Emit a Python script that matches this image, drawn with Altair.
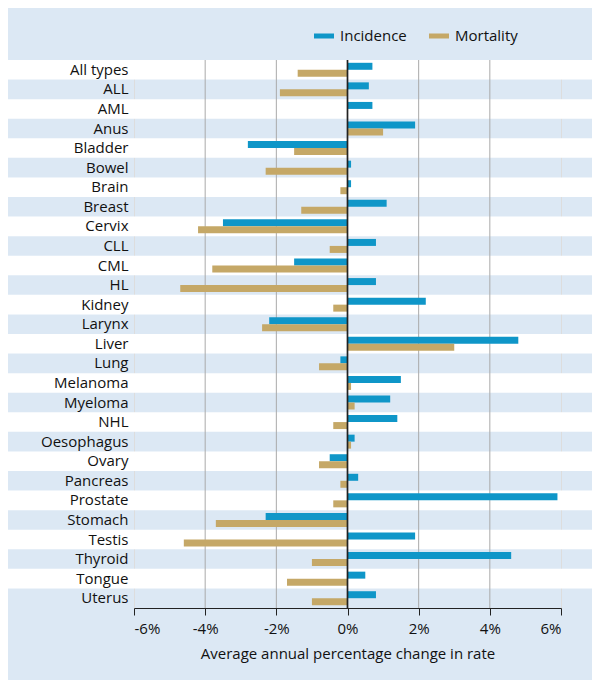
import altair as alt
import pandas as pd

cancers = ["All types", "ALL", "AML", "Anus", "Bladder", "Bowel", "Brain", "Breast",
           "Cervix", "CLL", "CML", "HL", "Kidney", "Larynx", "Liver", "Lung",
           "Melanoma", "Myeloma", "NHL", "Oesophagus", "Ovary", "Pancreas",
           "Prostate", "Stomach", "Testis", "Thyroid", "Tongue", "Uterus"]
incidence = [0.7, 0.6, 0.7, 1.9, -2.8, 0.1, 0.1, 1.1, -3.5, 0.8, -1.5, 0.8, 2.2, -2.2,
             4.8, -0.2, 1.5, 1.2, 1.4, 0.2, -0.5, 0.3, 5.9, -2.3, 1.9, 4.6, 0.5, 0.8]
mortality = [-1.4, -1.9, 0.0, 1.0, -1.5, -2.3, -0.2, -1.3, -4.2, -0.5, -3.8, -4.7, -0.4,
             -2.4, 3.0, -0.8, 0.1, 0.2, -0.4, 0.1, -0.8, -0.2, -0.4, -3.7, -4.6, -1.0,
             -1.7, -1.0]
grid_values = [-4, -2, 2, 4]

df = pd.DataFrame({
    "cancer": cancers * 2,
    "measure": ["Incidence"] * len(cancers) + ["Mortality"] * len(cancers),
    "change": incidence + mortality,
})
stripes = pd.DataFrame({"cancer": cancers[::2]})
grid = pd.DataFrame({"v": grid_values})

W, H = 427, 548
yscale = alt.Scale(domain=cancers, paddingInner=0, paddingOuter=0)
xscale = alt.Scale(domain=[-6, 6], nice=False)

stripe_layer = alt.Chart(stripes).mark_rect(color="white", clip=False).encode(
    y=alt.Y("cancer:N", scale=yscale, title=None),
    x=alt.value(-126), x2=alt.value(W + 31),
)

grid_layer = alt.Chart(grid).mark_rule(color="#a9a9a9", strokeWidth=1).encode(
    x=alt.X("v:Q", scale=xscale),
)

bars = alt.Chart(df).mark_bar().encode(
    y=alt.Y("cancer:N", scale=yscale, title=None,
            axis=alt.Axis(ticks=False, domain=False, labelFontSize=15,
                          labelColor="#111", labelPadding=6, labelAlign="right")),
    yOffset=alt.YOffset("measure:N", sort=["Incidence", "Mortality"],
                        scale=alt.Scale(paddingOuter=0.4, paddingInner=0)),
    x=alt.X("change:Q", scale=xscale, title="Average annual percentage change in rate",
            axis=alt.Axis(values=[-6, -4, -2, 0, 2, 4, 6], labelExpr="datum.value + '%'",
                          grid=False, domainColor="#222", tickColor="#222", tickSize=7,
                          labelFontSize=15, titleFontSize=15, titleFontWeight="normal",
                          labelColor="#111", titleColor="#111", labelPadding=6,
                          titlePadding=10)),
    color=alt.Color("measure:N", sort=["Incidence", "Mortality"],
                    scale=alt.Scale(domain=["Incidence", "Mortality"],
                                    range=["#0f96c8", "#c5a867"]),
                    legend=alt.Legend(title=None, orient="none", direction="horizontal",
                                      legendX=180, legendY=-34, labelFontSize=15,
                                      labelColor="#111", columnPadding=22,
                                      symbolType="M-1,-0.25H1V0.25H-1Z", symbolSize=400,
                                      symbolStrokeWidth=0, labelOffset=6)),
)

zero = alt.Chart(grid).mark_rule(color="#222", strokeWidth=1.2).encode(
    x=alt.datum(0, scale=xscale),
)

chart = alt.layer(stripe_layer, grid_layer, bars, zero).properties(
    width=W, height=H,
    autosize=alt.AutoSizeParams(type="none"),
    padding={"left": 126, "top": 52, "right": 31, "bottom": 72},
    background="#dce8f4",
).configure_view(stroke=None).configure(font="Open Sans")

chart.save("out.html", embed_options={"renderer": "svg", "actions": False})
